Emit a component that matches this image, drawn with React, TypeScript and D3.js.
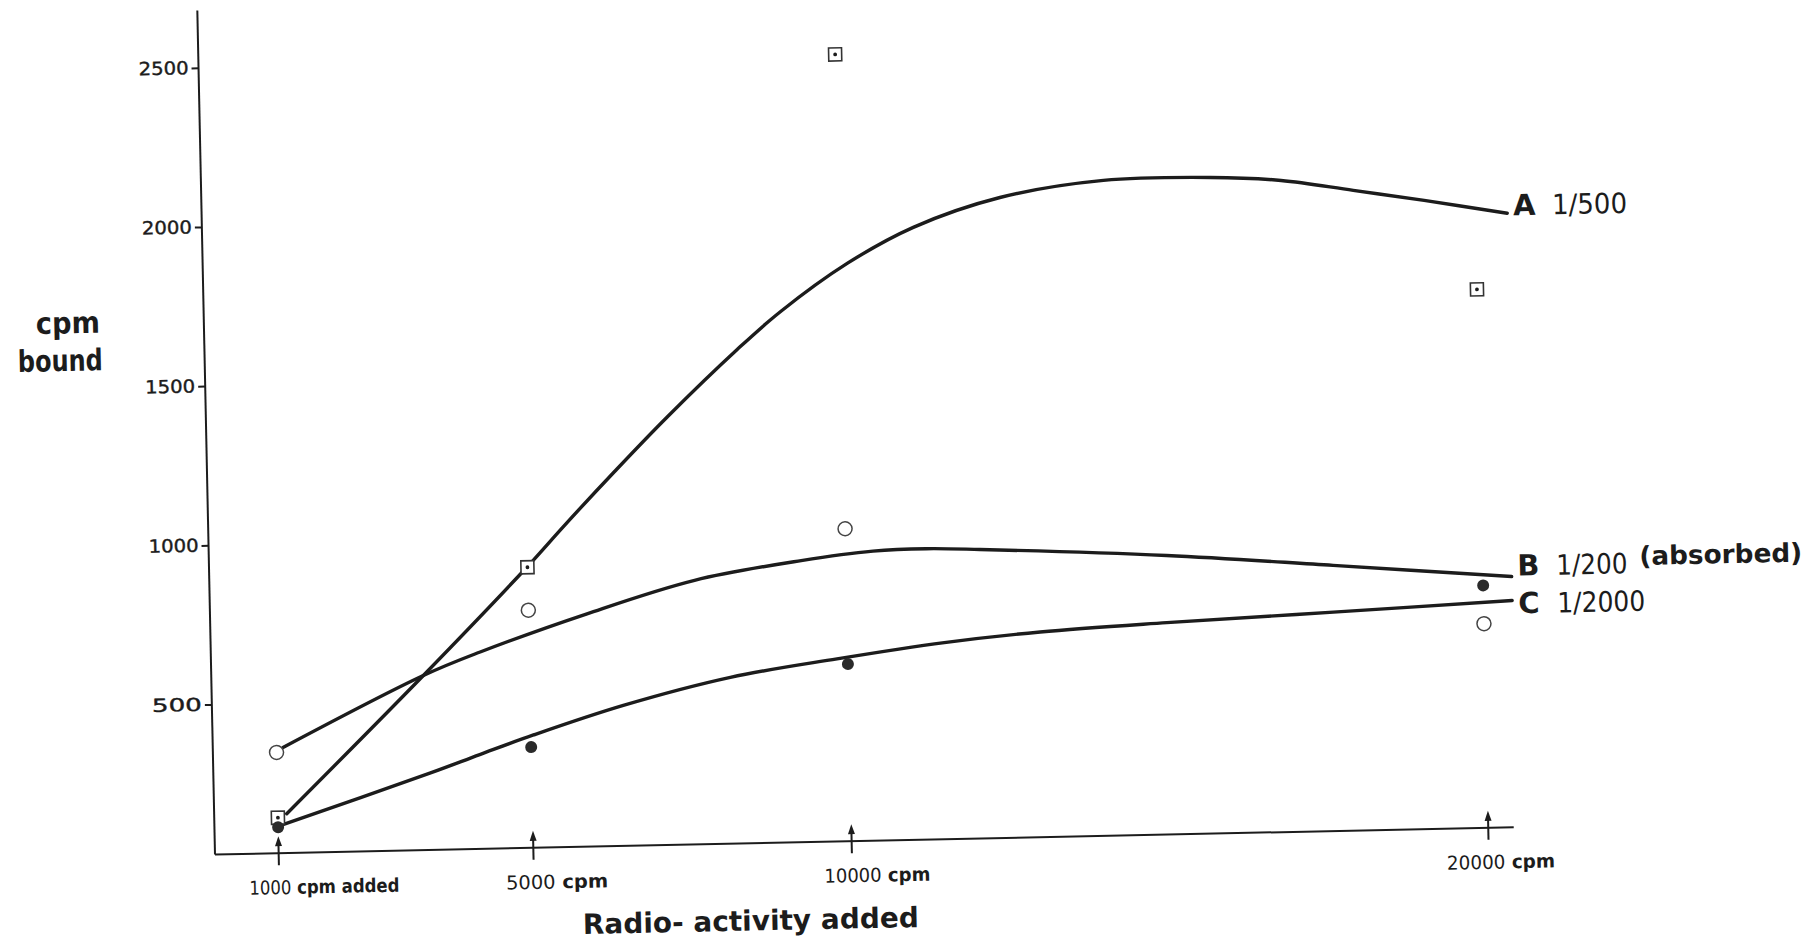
import React, { useEffect, useRef } from 'react';
import * as d3 from 'd3';

// radio-activity added (cpm) for each measured point
const addedCpm = [1000, 5000, 10000, 20000];

// cpm bound, one list per marker type
const squareBound = [140, 910, 2500, 1720];
const openBound = [345, 775, 1010, 670];
const filledBound = [110, 345, 585, 790];

// the hand drawn curves (cpm added, cpm bound)
const curveAx = [1140, 3330, 4990, 5600, 6400, 7240, 8365, 9050, 10120, 11170, 12540, 14170, 15850, 16960, 18090, 19200, 20500];
const curveAy = [152, 577, 910, 1040, 1205, 1372, 1580, 1695, 1843, 1952, 2040, 2087, 2089, 2075, 2039, 2003, 1957];
const curveBx = [1110, 3330, 4230, 5920, 7620, 9300, 10430, 11270, 12110, 15040, 17650, 20450];
const curveBy = [361, 577, 647, 760, 858, 913, 938, 942, 936, 905, 863, 816];
const curveCx = [1030, 3400, 4190, 5040, 6460, 8150, 9830, 11520, 13030, 15020, 17640, 20450];
const curveCy = [115, 270, 325, 383, 470, 551, 602, 646, 673, 694, 716, 741];

const seriesLetters = ['A', 'B', 'C'];
const seriesDilutions = ['1/500', '1/200', '1/2000'];
const seriesNotes = ['', '(absorbed)', ''];

const xTicks = [1000, 5000, 10000, 20000];
const xTickNumbers = ['1000', '5000', '10000', '20000'];
const xTickUnits = [' cpm added', ' cpm', ' cpm', ' cpm'];
const yTicks = [500, 1000, 1500, 2000, 2500];

const W = 1816;
const H = 942;
const INK = '#1c1c1c';
const FONT = "'DejaVu Sans', Verdana, sans-serif";
// the scan is turned a little, everything is drawn in that tilted frame
const origin = { x: 215, y: 854.5 };
const tilt = -1.2;

// label layout (offsets in the tilted frame)
const xLabelDx = [-30, -28, -28, -42];
const xLabelW = [150, 102, 106, 108];
const letterDy = [2, -1, 13];
const dilutionW = [75, 71, 88];

const toLocal = (px: number, py: number) => {
  const a = (-tilt * Math.PI) / 180;
  const dx = px - origin.x;
  const dy = py - origin.y;
  return [dx * Math.cos(a) - dy * Math.sin(a), dx * Math.sin(a) + dy * Math.cos(a)];
};

export default function App() {
  const svgRef = useRef<SVGSVGElement>(null);

  useEffect(() => {
    const svg = d3.select(svgRef.current);
    svg.selectAll('*').remove();
    svg.append('rect').attr('width', W).attr('height', H).attr('fill', '#fff');

    const x = d3.scaleLinear().domain([0, 20400]).range([0, 1299]);
    const y = d3.scaleLinear().domain([0, 2500]).range([9.1, -786.9]);

    const g = svg
      .append('g')
      .attr('transform', `translate(${origin.x},${origin.y}) rotate(${tilt})`)
      .attr('font-family', FONT)
      .attr('fill', INK);

    // axes
    g.append('line')
      .attr('x1', 0).attr('y1', 0)
      .attr('x2', 0).attr('y2', y(2680))
      .attr('stroke', INK).attr('stroke-width', 2);
    g.append('line')
      .attr('x1', 0).attr('y1', 0)
      .attr('x2', x(20400)).attr('y2', 0)
      .attr('stroke', INK).attr('stroke-width', 2);

    const yAxis = g
      .append('g')
      .call(d3.axisLeft(y).tickValues(yTicks).tickSize(7).tickPadding(3).tickFormat(d3.format('d')));
    yAxis.select('.domain').remove();
    yAxis.selectAll('line').attr('stroke', INK).attr('stroke-width', 2);
    yAxis
      .selectAll('text')
      .attr('font-family', FONT)
      .attr('font-size', 18)
      .attr('fill', INK)
      .attr('stroke', INK)
      .attr('stroke-width', 0.4)
      .attr('textLength', 50)
      .attr('lengthAdjust', 'spacingAndGlyphs');

    // arrows marking the amounts added
    xTicks.forEach((v, i) => {
      const ax = x(v);
      g.append('line')
        .attr('x1', ax).attr('y1', 12)
        .attr('x2', ax).attr('y2', -9)
        .attr('stroke', INK).attr('stroke-width', 2);
      g.append('path')
        .attr('d', `M${ax},-17 L${ax - 3.5},-7 L${ax + 3.5},-7 Z`)
        .attr('fill', INK);
      const t = g
        .append('text')
        .attr('x', ax + xLabelDx[i])
        .attr('y', 41)
        .attr('font-size', 19)
        .attr('textLength', xLabelW[i])
        .attr('lengthAdjust', 'spacingAndGlyphs');
      t.append('tspan').text(xTickNumbers[i]);
      t.append('tspan').attr('font-weight', 'bold').text(xTickUnits[i]);
    });

    // curves
    const line = d3
      .line<[number, number]>()
      .x(d => x(d[0]))
      .y(d => y(d[1]))
      .curve(d3.curveCatmullRom.alpha(0.5));
    const curves = [
      curveAx.map((v, i) => [v, curveAy[i]] as [number, number]),
      curveBx.map((v, i) => [v, curveBy[i]] as [number, number]),
      curveCx.map((v, i) => [v, curveCy[i]] as [number, number])
    ];
    curves.forEach(c => {
      g.append('path')
        .attr('d', line(c))
        .attr('fill', 'none')
        .attr('stroke', INK)
        .attr('stroke-width', 3.4)
        .attr('stroke-linecap', 'round');
    });

    // curve labels
    curves.forEach((c, i) => {
      const end = c[c.length - 1];
      const ex = x(end[0]);
      const ey = y(end[1]);
      g.append('text')
        .attr('x', ex + 6)
        .attr('y', ey + letterDy[i])
        .attr('font-size', 29)
        .attr('font-weight', 'bold')
        .text(seriesLetters[i]);
      g.append('text')
        .attr('x', ex + 45)
        .attr('y', ey + letterDy[i])
        .attr('font-size', 28)
        .attr('textLength', dilutionW[i])
        .attr('lengthAdjust', 'spacingAndGlyphs')
        .text(seriesDilutions[i]);
      if (seriesNotes[i]) {
        g.append('text')
          .attr('x', ex + 128)
          .attr('y', ey + letterDy[i] - 8)
          .attr('font-size', 26)
          .attr('font-weight', 'bold')
          .attr('textLength', 163)
          .attr('lengthAdjust', 'spacingAndGlyphs')
          .text(seriesNotes[i]);
      }
    });

    // markers
    addedCpm.forEach((v, i) => {
      const sx = x(v);
      const sy = y(squareBound[i]);
      g.append('rect')
        .attr('x', sx - 6.5).attr('y', sy - 6.5)
        .attr('width', 13).attr('height', 13)
        .attr('fill', '#fff').attr('stroke', '#333').attr('stroke-width', 1.6);
      g.append('circle').attr('cx', sx).attr('cy', sy).attr('r', 1.9).attr('fill', INK);

      g.append('circle')
        .attr('cx', x(v)).attr('cy', y(openBound[i])).attr('r', 7)
        .attr('fill', '#fff').attr('stroke', '#444').attr('stroke-width', 1.5);

      g.append('circle')
        .attr('cx', x(v)).attr('cy', y(filledBound[i])).attr('r', 6)
        .attr('fill', '#2a2a2a');
    });

    // axis titles
    const [cx, cy] = toLocal(36, 334);
    g.append('text')
      .attr('x', cx).attr('y', cy)
      .attr('font-size', 30).attr('font-weight', 'bold')
      .attr('textLength', 64).attr('lengthAdjust', 'spacingAndGlyphs')
      .text('cpm');
    const [bx, by] = toLocal(18, 372);
    g.append('text')
      .attr('x', bx).attr('y', by)
      .attr('font-size', 30).attr('font-weight', 'bold')
      .attr('textLength', 85).attr('lengthAdjust', 'spacingAndGlyphs')
      .text('bound');
    const [rx, ry] = toLocal(583, 934);
    g.append('text')
      .attr('x', rx).attr('y', ry)
      .attr('font-size', 28).attr('font-weight', 'bold')
      .attr('textLength', 336).attr('lengthAdjust', 'spacingAndGlyphs')
      .text('Radio- activity added');
  }, []);

  return (
    <svg
      ref={svgRef}
      width={W}
      height={H}
      style={{ position: 'absolute', left: 0, top: 0, display: 'block' }}
    />
  );
}
